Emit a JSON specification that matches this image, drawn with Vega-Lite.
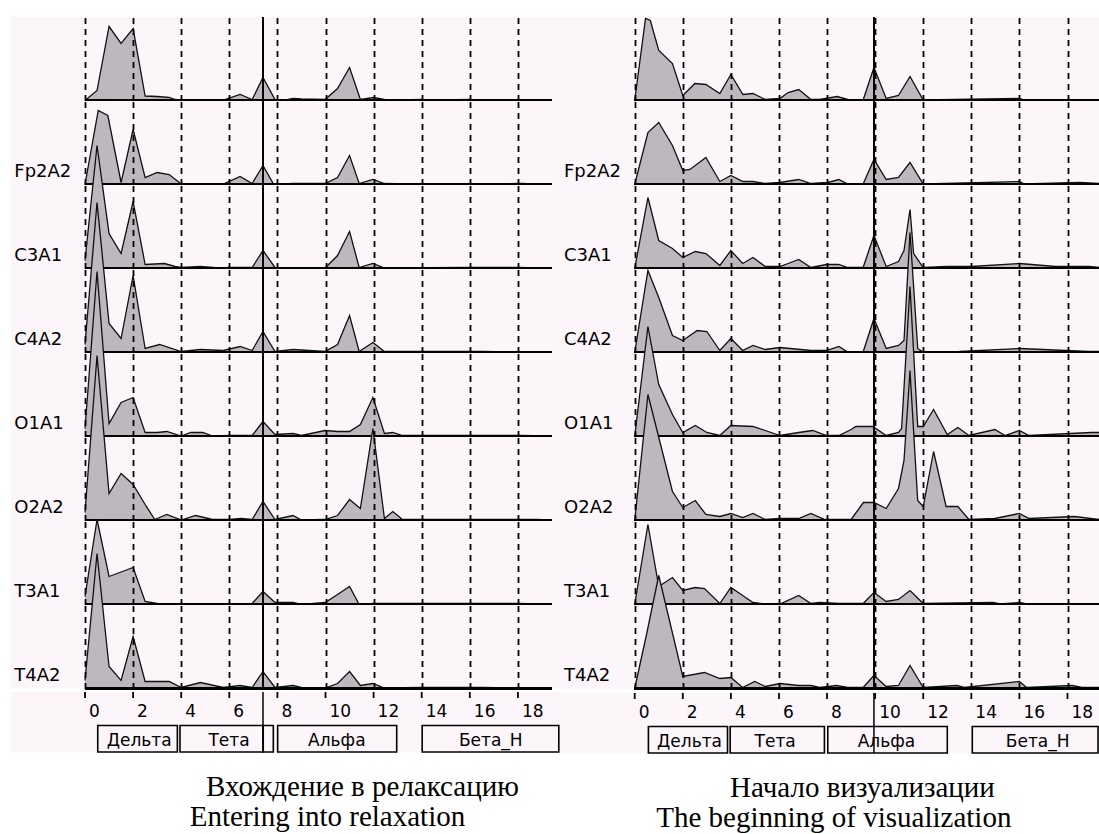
{
 "$schema": "https://vega.github.io/schema/vega-lite/v6.json",
 "background": "white",
 "padding": {"left": 11, "top": 15, "right": 0, "bottom": 0},
 "config": {
  "view": {"stroke": null, "fill": "#fcf5fa"},
  "text": {"font": "DejaVu Sans", "color": "black"},
  "title": {"font": "Liberation Serif", "fontSize": 29, "fontWeight": "normal", "color": "black", "anchor": "middle"}
 },
 "datasets": {
  "L": [
   {"r":1,"ch":"","f":[0,0.5,1.0,1.5,2.0,2.5,3.0,3.5,3.75,4.0,4.8,5.75,6.45,6.95,7.4,7.9,8.35,8.65,9.0,9.98,10.5,11.0,11.45,12.0,12.45,12.7,14.0,14.2,16.0,16.2,19.4],
    "p":[0,10,74,57,72,4.5,4,3,1,0.3,0.3,0.5,6,1,23,1,0.5,2,1.5,1,12,33,1,3,1,0.3,1,0.3,1,0.3,0.3]},
   {"r":2,"ch":"Fp2A2","f":[0,0.55,0.95,1.5,2.0,2.5,3.0,3.5,4.0,5.75,6.45,6.95,7.4,7.85,8.65,9.98,10.5,11.0,11.4,11.97,12.45,13.4,18.2,18.6,19.4],
    "p":[0,74,69,2,55,7,12,10,0.5,0.5,8,1,19,0,1,1,7,29,1,5,1,0.5,1,0.5,0.3]},
   {"r":3,"ch":"C3A1","f":[0,0.5,1.0,1.5,2.0,2.5,3.3,3.75,4.0,4.8,5.6,6.0,6.5,6.95,7.4,7.9,9.98,10.5,11.0,11.4,11.97,12.45,16.0,18.0,19.4],
    "p":[8,123,35,15,67,4,5,2,1,2,0.5,1,1,1,18,1,0.5,13,37,1,5,0.5,1,1,0.3]},
   {"r":4,"ch":"C4A2","f":[0,0.5,1.0,1.5,2.0,2.5,3.1,4.0,4.8,5.75,6.45,6.95,7.4,7.9,8.65,9.98,10.5,11.0,11.4,11.97,12.45,14.0,16.5,19.4],
    "p":[8,150,29,14,77,4,8,1,3,2,6,2,21,1,3,1,8,37,1,10,1,1,1,0.3]},
   {"r":5,"ch":"O1A1","f":[0,0.5,1.0,1.5,2.0,2.5,3.0,3.4,4.0,4.4,4.9,5.3,6.0,6.95,7.4,7.9,8.65,9.0,9.98,10.5,11.0,11.45,11.97,12.45,12.8,13.2,16.0,18.0,19.4],
    "p":[8,165,13,34,39,4,4,5,0.5,4,4,0.5,1,1,15,2,3,1,6,5,5,12,39,3,4,1,1,1,0.5]},
   {"r":6,"ch":"O2A2","f":[0,0.5,1.0,1.5,2.0,2.5,2.9,3.4,4.0,4.6,5.3,6.0,6.5,6.95,7.4,7.9,8.65,9.0,9.98,10.5,11.0,11.45,11.97,12.45,12.8,13.2,14.5,18.7,19.4],
    "p":[8,165,27,47,36,16,1,6,0.5,5,1,1,2,1,19,1,5,0.5,1,5,21,12,92,2,9,1,1,1,0.5]},
   {"r":7,"ch":"T3A1","f":[0,0.5,1.0,2.0,2.5,3.0,4.0,6.95,7.4,7.9,8.65,9.0,9.98,10.5,11.0,11.4,12.0,16.0,18.0,19.4],
    "p":[8,85,28,37,3,1,0.5,1,13,2,2,0,2,10,18,0,1,1,1,0.3]},
   {"r":8,"ch":"T4A2","f":[0,0.5,1.0,1.5,2.0,2.5,3.0,3.5,4.0,4.8,5.75,6.45,6.95,7.4,7.9,8.65,9.0,9.98,10.5,11.0,11.45,11.97,12.45,14.0,15.0,16.5,19.4],
    "p":[8,135,22,8,52,7,7,7,1,6,1,3,1,17,1,3,1,0.5,5,17,3,5,0.5,1,1,1,0.3]}
  ],
  "R": [
   {"r":1,"ch":"","f":[0,0.45,0.65,1.0,1.57,2.0,2.5,2.96,3.54,4.0,4.5,4.92,5.43,6.04,6.38,6.82,7.33,7.69,8.42,8.86,9.5,9.95,10.46,10.97,11.45,12.0,16.0,16.2,19.31],
    "p":[0,82,80,50,37,5,17,16,7,26,6,7,1,2,8,11,1,1,4,1,0.5,33,2,5,24,0.5,2,0.5,0.5]},
   {"r":2,"ch":"Fp2A2","f":[0,0.55,1.0,1.57,2.0,2.3,2.96,3.54,4.0,4.5,4.92,5.43,6.04,6.82,7.33,8.03,8.49,8.86,9.5,9.95,10.46,10.97,11.45,12.0,16.0,16.2,18.5,19.31],
    "p":[0,52,62,39,14,15,27,3,9,3,3,1,2,5,1,2,5,0.5,0.5,25,5,7,22,0.5,3,0.5,2,1]},
   {"r":3,"ch":"C3A1","f":[0,0.55,1.0,1.57,2.0,2.52,2.96,3.54,4.0,4.49,4.92,5.43,6.04,6.38,6.82,7.33,7.98,8.49,8.86,9.5,9.95,10.46,10.97,11.2,11.45,11.6,12.0,13.0,14.0,16.0,17.5,18.9,19.31],
    "p":[0,71,28,20,11,17,15,3,18,5,11,2,2,5,9,1,4,4,1,1,33,2,7,18,59,15,1,2,2,5,2,2,1]},
   {"r":4,"ch":"C4A2","f":[0,0.55,1.0,1.57,2.0,2.6,3.0,3.54,4.0,4.49,4.92,5.43,6.04,7.33,7.98,8.49,8.86,9.5,9.95,10.46,10.97,11.2,11.45,11.77,12.0,13.5,16.0,18.9,19.31],
    "p":[0,82,55,17,12,22,21,2,14,2,7,3,5,2,2,6,0.5,0.5,34,4,7,12,120,4,0.5,1,4,1,1]},
   {"r":5,"ch":"O1A1","f":[0,0.55,1.0,1.57,2.0,2.52,3.0,3.54,4.0,4.92,5.43,6.04,6.82,7.4,7.98,8.49,9.0,9.2,9.9,10.46,10.97,11.1,11.45,11.77,12.0,12.43,13.0,13.44,13.9,14.98,15.4,16.0,16.4,19.0,19.31],
    "p":[0,110,52,22,4,11,4,1,11,10,6,1,4,6,1,1,7,10,10,1,4,8,150,10,10,27,2,9,1,7,1,6,1,4,4]},
   {"r":6,"ch":"O2A2","f":[0,0.55,1.57,2.0,2.52,2.96,3.54,4.0,4.49,4.92,5.43,6.04,6.82,7.33,7.9,8.49,9.0,9.51,9.95,10.46,10.97,11.2,11.45,11.77,12.0,12.43,12.95,13.44,13.9,14.98,16.0,16.4,18.3,19.31],
    "p":[0,126,29,13,20,6,4,7,3,7,1,2,2,7,1,1,1,18,18,12,32,60,150,20,14,69,14,14,1,2,7,2,4,1]},
   {"r":7,"ch":"T3A1","f":[0,0.55,1.0,1.57,2.0,2.52,2.9,3.54,4.0,4.49,4.92,5.43,6.04,6.82,7.33,7.69,8.49,9.5,9.95,10.46,10.97,11.45,12.0,14.9,15.2,16.0,16.3,19.31],
    "p":[0,80,18,27,14,17,16,1,17,9,2,0.5,0.5,9,1,2,1,1,12,3,5,14,1,2,0.5,2,0.5,0.5]},
   {"r":8,"ch":"T4A2","f":[0,0.5,1.0,2.0,2.9,3.54,4.0,4.49,4.99,5.43,6.04,6.82,7.33,7.69,8.4,8.86,9.5,9.95,10.46,10.97,11.45,12.0,13.4,13.7,16.0,16.3,18.2,18.6,19.31],
    "p":[0,55,113,12,16,10,11,1,7,2,5,3,3,1,3,1,1,13,2,3,23,1,3,1,7,1,3,1,1]}
  ],
  "ticks": [{"f":0},{"f":2},{"f":4},{"f":6},{"f":8},{"f":10},{"f":12},{"f":14},{"f":16},{"f":18}],
  "bandsL": [
   {"b":"Дельта","a":0.53,"z":3.84,"t":2.25},
   {"b":"Тета","a":3.95,"z":7.41,"t":5.99},
   {"b":"","a":7.41,"z":7.83,"t":7.62},
   {"b":"Альфа","a":8.01,"z":12.96,"t":10.47},
   {"b":"Бета_Н","a":14.02,"z":19.7,"t":16.87}
  ],
  "bandsR": [
   {"b":"Дельта","a":0.57,"z":3.86,"t":2.28},
   {"b":"Тета","a":3.97,"z":7.89,"t":5.84},
   {"b":"Альфа","a":8.03,"z":13.0,"t":10.47},
   {"b":"Бета_Н","a":14.04,"z":19.27,"t":16.76}
  ]
 },
 "resolve": {"scale": {"x": "independent", "y": "independent"}},
 "spacing": 0,
 "hconcat": [
  {
   "title": {"text": "Entering into relaxation", "orient": "bottom", "dx": 42, "offset": 1},
   "spacing": 0,
   "resolve": {"scale": {"x": "independent", "y": "independent"}},
   "vconcat": [
    {
     "data": {"name": "L"},
     "transform": [{"flatten": ["f", "p"]}],
     "facet": {"row": {"field": "r", "type": "ordinal", "header": null}},
     "spacing": 0,
     "bounds": "flush",
     "spec": {
      "width": 549, "height": 83.5,
      "layer": [
       {"mark": {"type": "area", "color": "#bdb8be"},
        "encoding": {
         "x": {"field": "f", "type": "quantitative", "scale": {"domain": [-3.077, 19.75], "nice": false, "zero": false},
               "axis": {"orient": "top", "values": [0,2,4,6,8,10,12,14,16,18], "grid": true, "gridDash": [6,5], "gridColor": "black", "gridWidth": 1.8, "gridOpacity": 1, "labels": false, "ticks": false, "domain": false, "title": null, "zindex": 1, "minExtent": 0, "maxExtent": 0}},
         "y": {"field": "p", "type": "quantitative", "scale": {"domain": [0, 83.5], "nice": false}, "axis": null}}},
       {"mark": {"type": "line", "color": "#111111", "strokeWidth": 1.3},
        "encoding": {"x": {"field": "f", "type": "quantitative"}, "y": {"field": "p", "type": "quantitative"}}},
       {"mark": {"type": "rule", "color": "black", "strokeWidth": 2},
        "encoding": {"x": {"datum": 0}, "x2": {"datum": 19.4}, "y": {"datum": 0}}},
       {"mark": {"type": "rule", "color": "black", "strokeWidth": 1.5},
        "encoding": {"x": {"datum": 7.4}}},
       {"transform": [{"filter": "datum.f === 0"}],
        "mark": {"type": "text", "align": "left", "baseline": "middle", "fontSize": 18},
        "encoding": {"x": {"datum": -2.94}, "y": {"datum": 12.7}, "text": {"field": "ch"}}}
      ]
     }
    },
    {
     "width": 549, "height": 60,
     "title": {"text": "Вхождение в релаксацию", "orient": "bottom", "dx": 77, "offset": 20},
     "layer": [
      {"data": {"name": "ticks"},
       "mark": {"type": "rule", "strokeDash": [6,5], "strokeWidth": 1.8, "color": "black"},
       "encoding": {
        "x": {"field": "f", "type": "quantitative", "scale": {"domain": [-3.077, 19.75], "nice": false, "zero": false}, "axis": null},
        "y": {"datum": 0, "type": "quantitative", "scale": {"domain": [0, 60], "reverse": true, "nice": false}, "axis": null},
        "y2": {"datum": 11}}},
      {"data": {"name": "ticks"},
       "mark": {"type": "text", "align": "left", "baseline": "top", "dx": 4, "fontSize": 17},
       "encoding": {"x": {"field": "f", "type": "quantitative"}, "y": {"datum": 12}, "text": {"field": "f", "type": "quantitative", "format": "d"}}},
      {"data": {"name": "bandsL"},
       "mark": {"type": "rect", "fill": "transparent", "stroke": "black", "strokeWidth": 1.6},
       "encoding": {"x": {"field": "a", "type": "quantitative"}, "x2": {"field": "z"}, "y": {"datum": 33.5}, "y2": {"datum": 60}}},
      {"data": {"name": "bandsL"},
       "mark": {"type": "text", "baseline": "middle", "align": "center", "fontSize": 17},
       "encoding": {"x": {"field": "t", "type": "quantitative"}, "y": {"datum": 48.5}, "text": {"field": "b"}}},
      {"data": {"values": [{"c": 7.4}]},
       "mark": {"type": "rule", "strokeWidth": 1.5, "color": "black"},
       "encoding": {"x": {"field": "c", "type": "quantitative"}, "y": {"datum": 0}, "y2": {"datum": 60}}}
     ]
    }
   ]
  },
  {
   "title": {"text": "The beginning of visualization", "orient": "bottom", "dx": 3, "offset": 1},
   "spacing": 0,
   "resolve": {"scale": {"x": "independent", "y": "independent"}},
   "vconcat": [
    {
     "data": {"name": "R"},
     "transform": [{"flatten": ["f", "p"]}],
     "facet": {"row": {"field": "r", "type": "ordinal", "header": null}},
     "spacing": 0,
     "bounds": "flush",
     "spec": {
      "width": 539, "height": 83.5,
      "layer": [
       {"mark": {"type": "area", "color": "#bdb8be"},
        "encoding": {
         "x": {"field": "f", "type": "quantitative", "scale": {"domain": [-3.107, 19.31], "nice": false, "zero": false},
               "axis": {"orient": "top", "values": [0,2,4,6,8,10,12,14,16,18], "grid": true, "gridDash": [6,5], "gridColor": "black", "gridWidth": 1.8, "gridOpacity": 1, "labels": false, "ticks": false, "domain": false, "title": null, "zindex": 1, "minExtent": 0, "maxExtent": 0}},
         "y": {"field": "p", "type": "quantitative", "scale": {"domain": [0, 83.5], "nice": false}, "axis": null}}},
       {"mark": {"type": "line", "color": "#111111", "strokeWidth": 1.3},
        "encoding": {"x": {"field": "f", "type": "quantitative"}, "y": {"field": "p", "type": "quantitative"}}},
       {"mark": {"type": "rule", "color": "black", "strokeWidth": 2},
        "encoding": {"x": {"datum": 0}, "x2": {"datum": 19.31}, "y": {"datum": 0}}},
       {"mark": {"type": "rule", "color": "black", "strokeWidth": 1.5},
        "encoding": {"x": {"datum": 9.95}}},
       {"transform": [{"filter": "datum.f === 0"}],
        "mark": {"type": "text", "align": "left", "baseline": "middle", "fontSize": 18},
        "encoding": {"x": {"datum": -2.94}, "y": {"datum": 12.7}, "text": {"field": "ch"}}}
      ]
     }
    },
    {
     "width": 539, "height": 60,
     "title": {"text": "Начало визуализации", "orient": "bottom", "dx": 33, "offset": 20},
     "layer": [
      {"data": {"name": "ticks"},
       "mark": {"type": "rule", "strokeDash": [6,5], "strokeWidth": 1.8, "color": "black"},
       "encoding": {
        "x": {"field": "f", "type": "quantitative", "scale": {"domain": [-3.107, 19.31], "nice": false, "zero": false}, "axis": null},
        "y": {"datum": 0, "type": "quantitative", "scale": {"domain": [0, 60], "reverse": true, "nice": false}, "axis": null},
        "y2": {"datum": 11}}},
      {"data": {"name": "ticks"},
       "mark": {"type": "text", "align": "left", "baseline": "top", "dx": 4, "fontSize": 17},
       "encoding": {"x": {"field": "f", "type": "quantitative"}, "y": {"datum": 12}, "text": {"field": "f", "type": "quantitative", "format": "d"}}},
      {"data": {"name": "bandsR"},
       "mark": {"type": "rect", "fill": "transparent", "stroke": "black", "strokeWidth": 1.6},
       "encoding": {"x": {"field": "a", "type": "quantitative"}, "x2": {"field": "z"}, "y": {"datum": 33.5}, "y2": {"datum": 60}}},
      {"data": {"name": "bandsR"},
       "mark": {"type": "text", "baseline": "middle", "align": "center", "fontSize": 17},
       "encoding": {"x": {"field": "t", "type": "quantitative"}, "y": {"datum": 48.5}, "text": {"field": "b"}}},
      {"data": {"values": [{"c": 9.95}]},
       "mark": {"type": "rule", "strokeWidth": 1.5, "color": "black"},
       "encoding": {"x": {"field": "c", "type": "quantitative"}, "y": {"datum": 0}, "y2": {"datum": 60}}}
     ]
    }
   ]
  }
 ]
}
